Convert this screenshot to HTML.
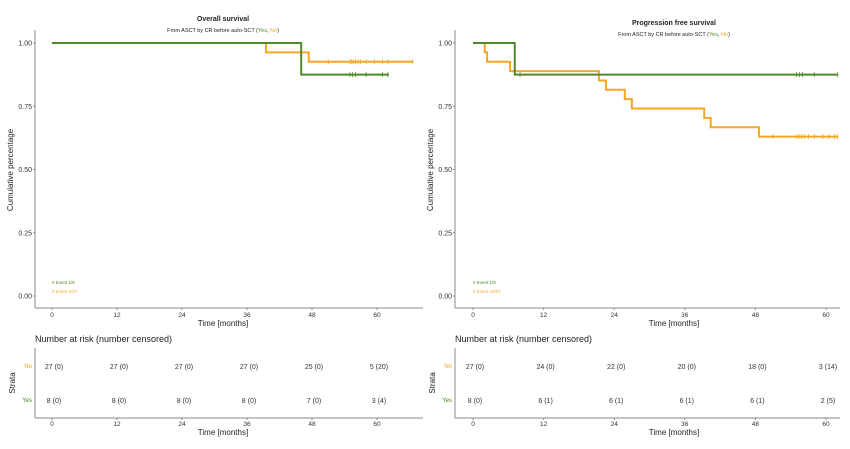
<!DOCTYPE html>
<html><head><meta charset="utf-8"><style>
body{margin:0;background:#fff;width:850px;height:444px;overflow:hidden}
svg{font-family:"Liberation Sans",sans-serif}
</style></head><body>
<svg id="s" width="850" height="444"></svg>
<script>
// ---- data ----
const ticksX=[0,12,24,36,48,60];
const ticksY=[0,0.25,0.5,0.75,1];
const osYesT=[0,46,62.2]; const osYesS=[1,0.875,0.875];
const osNoT=[0,39.5,47.4,66.6]; const osNoS=[1,0.963,0.926,0.926];
const osYesCens=[55,55.5,56,58,61,62];
const osNoCens=[51,55,55.3,55.6,56,56.5,57,58,59.5,61,62,66.6];
const pfsYesT=[0,7.1,62]; const pfsYesS=[1,0.875,0.875];
const pfsNoT=[0,2,2.4,6.3,21.4,22.6,25.8,27,39.3,40.4,48.6,62];
const pfsNoS=[1,0.963,0.926,0.889,0.852,0.815,0.778,0.741,0.704,0.667,0.630,0.630];
const pfsYesCens=[8,55,55.5,56,58,62];
const pfsNoCens=[51,55,55.4,55.8,56.3,57,58,59.5,60.5,61.5,62];
const osRiskNo=["27 (0)","27 (0)","27 (0)","27 (0)","25 (0)","5 (20)"];
const osRiskYes=["8 (0)","8 (0)","8 (0)","8 (0)","7 (0)","3 (4)"];
const pfsRiskNo=["27 (0)","24 (0)","22 (0)","20 (0)","18 (0)","3 (14)"];
const pfsRiskYes=["8 (0)","6 (1)","6 (1)","6 (1)","6 (1)","2 (5)"];
const G="#4f8a2a",O="#f5a623";
const S=document.getElementById('s');
function el(t,a,txt){const e=document.createElementNS('http://www.w3.org/2000/svg',t);for(const k in a)e.setAttribute(k,a[k]);if(txt!=null)e.textContent=txt;S.appendChild(e);return e;}
function panel(o){
 const X=v=>o.x0+v*(o.x60-o.x0)/60, Y=v=>296-v*253;
 let e=el('text',{x:o.tx,y:o.ty,'font-size':7,'font-weight':'bold','text-anchor':'middle',fill:'#222'},o.title);
 
 e=el('text',{x:o.tx,y:o.ty+11,'font-size':5.5,'text-anchor':'middle',fill:'#222'});
 e.innerHTML='From ASCT by CR before auto-SCT (<tspan fill="'+G+'">Yes</tspan>, <tspan fill="'+O+'">No</tspan>)';
 
 el('line',{x1:o.ax,y1:30,x2:o.ax,y2:308,stroke:'#888','stroke-width':1});
 el('line',{x1:o.ax,y1:308,x2:o.xe,y2:308,stroke:'#888','stroke-width':1});
 ticksY.forEach(v=>{el('line',{x1:o.ax-2,x2:o.ax,y1:Y(v),y2:Y(v),stroke:'#888'});
  e=el('text',{x:o.ax-3,y:Y(v)+2.5,'font-size':7,'text-anchor':'end',fill:'#333'},v.toFixed(2));
  });
 ticksX.forEach(v=>{el('line',{x1:X(v),x2:X(v),y1:308,y2:310,stroke:'#888'});
  e=el('text',{x:X(v),y:317,'font-size':6.5,'text-anchor':'middle',fill:'#333'},v);
  
  el('line',{x1:X(v),x2:X(v),y1:418,y2:420,stroke:'#888'});
  e=el('text',{x:X(v),y:426,'font-size':6.5,'text-anchor':'middle',fill:'#333'},v);
  });
 e=el('text',{x:o.tx,y:326,'font-size':8,'text-anchor':'middle',fill:'#222'},'Time [months]');
 
 e=el('text',{x:0,y:0,'font-size':8,'text-anchor':'middle',fill:'#222',transform:'translate('+(o.ax-22)+',170) rotate(-90)'},'Cumulative percentage');
 
 function curve(T,Sv,C,col,name){let d='M'+X(T[0])+','+Y(Sv[0]);
  for(let i=1;i<T.length;i++){d+='H'+X(T[i])+'V'+Y(Sv[i]);}
  const p=el('path',{d:d,fill:'none',stroke:col,'stroke-width':2});
  
  C.forEach(c=>{let s=Sv[0];for(let i=0;i<T.length;i++)if(T[i]<=c)s=Sv[i];
   el('line',{x1:X(c),x2:X(c),y1:Y(s)-2.5,y2:Y(s)+2.5,stroke:col,'stroke-width':0.8});});}
 curve(o.nT,o.nS,o.nC,O,'no-curve');curve(o.yT,o.yS,o.yC,G,'yes-curve');
 e=el('text',{x:X(0),y:284,'font-size':4.5,fill:G},'# Event 1/8');
 e=el('text',{x:X(0),y:293,'font-size':4.5,fill:O},o.ev);
 e=el('text',{x:o.ax,y:342,'font-size':9,fill:'#222'},'Number at risk (number censored)');
 
 el('line',{x1:o.ax,y1:348,x2:o.ax,y2:418,stroke:'#888'});
 el('line',{x1:o.ax,y1:418,x2:o.xe,y2:418,stroke:'#888'});
 el('text',{x:o.ax-3,y:368,'font-size':6,'text-anchor':'end',fill:O},'No');
 el('text',{x:o.ax-3,y:402,'font-size':6,'text-anchor':'end',fill:G},'Yes');
 e=el('text',{x:0,y:0,'font-size':8,'text-anchor':'middle',fill:'#222',transform:'translate('+(o.ax-20)+',383) rotate(-90)'},'Strata');
 
 ticksX.forEach((v,i)=>{
  e=el('text',{x:X(v)+2,y:369,'font-size':7,'text-anchor':'middle',fill:'#333'},o.rN[i]);
  
  e=el('text',{x:X(v)+2,y:403,'font-size':7,'text-anchor':'middle',fill:'#333'},o.rY[i]);
  });
 e=el('text',{x:o.tx,y:435,'font-size':8,'text-anchor':'middle',fill:'#222'},'Time [months]');
 
}
panel({x0:52,x60:377,ax:35,xe:423,tx:223,ty:21,title:'Overall survival',yT:osYesT,yS:osYesS,yC:osYesCens,nT:osNoT,nS:osNoS,nC:osNoCens,ev:'# Event 2/27',rN:osRiskNo,rY:osRiskYes});
panel({x0:473,x60:826,ax:455,xe:840,tx:674,ty:25,title:'Progression free survival',yT:pfsYesT,yS:pfsYesS,yC:pfsYesCens,nT:pfsNoT,nS:pfsNoS,nC:pfsNoCens,ev:'# Event 10/27',rN:pfsRiskNo,rY:pfsRiskYes});
</script>
</body></html>
